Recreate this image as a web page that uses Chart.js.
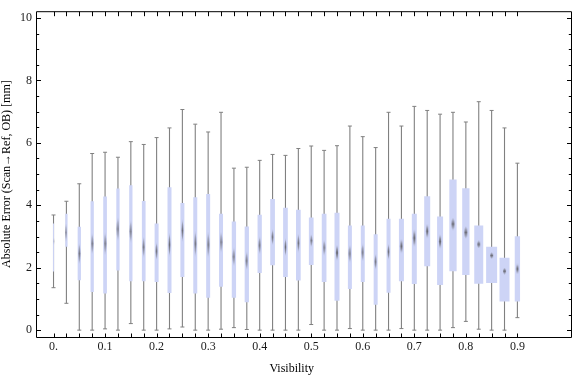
<!DOCTYPE html>
<html>
<head>
<meta charset="utf-8">
<title>Absolute error vs visibility</title>
<script src="https://cdn.jsdelivr.net/npm/chart.js@4.4.0/dist/chart.umd.min.js"></script>
<style>
  html, body { margin: 0; padding: 0; background: #fff; }
  #chart { display: block; }
</style>
</head>
<body>
<canvas id="chart" width="576" height="377"></canvas>
<script>
"use strict";

// ─── Data ──────────────────────────────────────────────────────────────────
const visibility = [
  0, 0.025, 0.05, 0.075, 0.1, 0.125, 0.15, 0.175, 0.2, 0.225,
  0.25, 0.275, 0.3, 0.325, 0.35, 0.375, 0.4, 0.425, 0.45, 0.475,
  0.5, 0.525, 0.55, 0.575, 0.6, 0.625, 0.65, 0.675, 0.7, 0.725,
  0.75, 0.775, 0.8, 0.825, 0.85, 0.875, 0.9,
];
const whiskerLo = [
  1.36, 0.86, 0, 0, 0.04, 0, 0.21, 0, 0, 0.04,
  0.10, 0, 0, 0.03, 0.08, 0.02, 0, 0, 0, 0,
  0.18, 0, 0, 0.05, 0, 0, 0, 0.05, 0, 0,
  0, 0.08, 0.28, 0.03, 0, 0, 0.40,
];
const q1 = [
  1.88, 2.67, 1.60, 1.22, 1.17, 1.91, 1.57, 1.57, 1.54, 1.19,
  1.70, 1.17, 1.04, 1.39, 1.04, 0.89, 1.83, 2.08, 1.70, 1.59,
  2.09, 1.54, 0.94, 1.32, 1.54, 0.81, 1.20, 1.57, 1.48, 2.05,
  1.45, 1.89, 1.77, 1.49, 1.51, 0.92, 0.92,
];
const median = [
  2.85, 3.13, 2.45, 2.77, 2.77, 3.24, 3.16, 2.66, 2.53, 2.74,
  3.19, 2.77, 2.74, 2.82, 2.35, 2.22, 2.72, 2.98, 2.66, 2.79,
  2.87, 2.64, 2.48, 2.45, 2.49, 2.19, 2.51, 2.69, 2.95, 3.17,
  2.84, 3.40, 3.13, 2.75, 2.39, 1.89, 1.96,
];
const q3 = [
  3.42, 3.73, 3.31, 4.13, 4.28, 4.54, 4.64, 4.14, 3.42, 4.58,
  4.07, 4.26, 4.36, 3.73, 3.48, 3.32, 3.70, 4.20, 3.92, 3.86,
  3.61, 3.73, 3.76, 3.35, 3.35, 3.07, 3.57, 3.57, 3.73, 4.29,
  3.64, 4.83, 4.55, 3.35, 2.67, 2.32, 3.01,
];
const whiskerHi = [
  3.69, 4.13, 4.69, 5.66, 5.70, 5.54, 6.04, 5.95, 6.17, 6.48,
  7.07, 6.60, 6.35, 6.98, 5.19, 5.22, 5.44, 5.63, 5.60, 5.82,
  5.90, 5.76, 5.91, 6.54, 6.20, 5.85, 6.98, 6.54, 7.17, 7.04,
  6.92, 6.98, 6.67, 7.32, 7.04, 6.48, 5.35,
];
// half-height of the median confidence marker, in mm
const medianCI = [
  0.12, 0.31, 0.34, 0.34, 0.37, 0.39, 0.37, 0.34, 0.29, 0.39,
  0.37, 0.42, 0.42, 0.34, 0.31, 0.31, 0.29, 0.26, 0.29, 0.31,
  0.21, 0.26, 0.26, 0.29, 0.29, 0.26, 0.26, 0.24, 0.29, 0.24,
  0.24, 0.21, 0.21, 0.13, 0.12, 0.11, 0.18,
];

const xTickValues = [0, 0.1, 0.2, 0.3, 0.4, 0.5, 0.6, 0.7, 0.8, 0.9];
const xTickLabels = ["0.", "0.1", "0.2", "0.3", "0.4", "0.5", "0.6", "0.7", "0.8", "0.9"];
const yTickValues = [0, 2, 4, 6, 8, 10];

// ─── Styling ───────────────────────────────────────────────────────────────
const FONT        = "'Liberation Serif', 'Times New Roman', serif";
const BOX_FILL    = "rgb(205,212,246)";
const WHISKER_COL = "rgb(128,128,128)";
const MEDIAN_RGB  = "100,100,108";
const Y_MINOR     = 0.5;
// box widths in px (box 0 is barely visible in the original)
const BOX_W = [
  1, 2.3, 3.3, 3.3, 3.7, 3.3, 3.3, 3.7, 4, 4,
  4, 4, 4, 4, 4.3, 4.3, 4.3, 4.7, 4.7, 4.7,
  4.7, 4.7, 5, 4, 4, 4, 4, 5, 5, 6,
  6, 7.3, 7.3, 9, 11, 10, 5.3,
];

// ─── Median marker: slim lens, darkest at the median, fading to the tips ───
function medianMark(ctx) {
  const i = ctx.dataIndex;
  const yScale = ctx.chart.scales.y;
  if (!yScale || i === undefined) return "circle";
  const top = yScale.getPixelForValue(median[i] + medianCI[i]);
  const bot = yScale.getPixelForValue(median[i] - medianCI[i]);
  if (!Number.isFinite(top) || !Number.isFinite(bot)) return "circle";
  const h = Math.max(4, Math.round(bot - top));
  const w = Math.max(2, Math.round(Math.min(BOX_W[i] * 0.5 + 1, 5)));
  const c = document.createElement("canvas");
  c.width = w;
  c.height = h;
  const g = c.getContext("2d");
  const grad = g.createLinearGradient(0, 0, 0, h);
  const k = i === 0 ? 0.35 : 1;
  grad.addColorStop(0,    `rgba(${MEDIAN_RGB},${0.12 * k})`);
  grad.addColorStop(0.25, `rgba(${MEDIAN_RGB},${0.55 * k})`);
  grad.addColorStop(0.5,  `rgba(${MEDIAN_RGB},${0.95 * k})`);
  grad.addColorStop(0.75, `rgba(${MEDIAN_RGB},${0.55 * k})`);
  grad.addColorStop(1,    `rgba(${MEDIAN_RGB},${0.12 * k})`);
  g.fillStyle = grad;
  g.beginPath();
  g.moveTo(w / 2, 0);
  g.quadraticCurveTo(w * 1.05, h / 2, w / 2, h);
  g.quadraticCurveTo(-w * 0.05, h / 2, w / 2, 0);
  g.closePath();
  g.fill();
  return c;
}

// ─── Datasets ──────────────────────────────────────────────────────────────
const whiskerSet = {
  type: "bar",
  data: visibility.map((v, i) => ({ x: v, y: [whiskerLo[i], whiskerHi[i]] })),
  backgroundColor: WHISKER_COL,
  barThickness: 1.1,
  grouped: false,
  inflateAmount: 0,
  order: 3,
};

const capSet = {
  type: "scatter",
  data: visibility.flatMap((v, i) => [{ x: v, y: whiskerLo[i] }, { x: v, y: whiskerHi[i] }]),
  pointStyle: "line",
  radius: 2,
  borderColor: WHISKER_COL,
  borderWidth: 1,
  order: 2,
};

const boxSets = visibility.map((v, i) => ({
  type: "bar",
  data: [{ x: v, y: [q1[i], q3[i]] }],
  backgroundColor: BOX_FILL,
  barThickness: BOX_W[i],
  grouped: false,
  inflateAmount: 0,
  order: 1,
}));

const medianSet = {
  type: "scatter",
  data: visibility.map((v, i) => ({ x: v, y: median[i] })),
  pointStyle: medianMark,
  radius: 3,
  order: 0,
};

// ─── Frame with inward ticks (Mathematica style) ───────────────────────────
const framePlugin = {
  id: "frame",
  afterDraw(chart) {
    const { ctx, chartArea: a, scales: { x, y } } = chart;
    const L = a.left + 0.5, R = a.right + 0.5, T = a.top + 0.5, B = a.bottom + 0.5;
    ctx.save();
    ctx.strokeStyle = "#000";
    ctx.lineWidth = 1;
    ctx.beginPath();
    ctx.rect(L, T, R - L, B - T);

    // x ticks at every category, top and bottom
    visibility.forEach(v => {
      const px = Math.round(x.getPixelForValue(v)) + 0.5;
      ctx.moveTo(px, B); ctx.lineTo(px, B - 4);
      ctx.moveTo(px, T); ctx.lineTo(px, T + 4.5);
    });

    // y ticks, majors and minors, left and right
    for (let v = 0; v <= 10 + 1e-9; v += Y_MINOR) {
      const py = Math.round(y.getPixelForValue(v)) + 0.5;
      const len = yTickValues.includes(v) ? 4.5 : 2.7;
      ctx.moveTo(L, py); ctx.lineTo(L + len, py);
      ctx.moveTo(R, py); ctx.lineTo(R - len, py);
    }
    ctx.stroke();

    // x axis label
    ctx.fillStyle = "#000";
    ctx.font = `12px ${FONT}`;
    ctx.textAlign = "center";
    ctx.textBaseline = "alphabetic";
    ctx.fillText("Visibility", a.left + (a.right - a.left) * 0.478, 372);
    ctx.restore();
  },
};

// ─── Chart ─────────────────────────────────────────────────────────────────
new Chart(document.getElementById("chart"), {
  type: "bar",
  data: { datasets: [whiskerSet, capSet, ...boxSets, medianSet] },
  options: {
    responsive: false,
    animation: false,
    layout: { padding: { top: 4, right: 3, left: 0, bottom: 0 } },
    plugins: {
      legend:  { display: false },
      tooltip: { enabled: false },
    },
    scales: {
      x: {
        type: "linear",
        min: -0.034,
        max: 1.004,
        offset: false,
        grid:   { display: false, drawTicks: false, offset: false },
        border: { display: false },
        afterFit(scale) { scale.height = 40; },
        afterBuildTicks(scale) { scale.ticks = xTickValues.map(v => ({ value: v })); },
        ticks: {
          autoSkip: false,
          maxRotation: 0,
          padding: 3,
          color: "#1a1a1a",
          font: { family: FONT, size: 12 },
          callback: (v, i) => xTickLabels[i],
        },
      },
      y: {
        type: "linear",
        min: -0.22,
        max: 10.22,
        grid:   { display: false, drawTicks: false },
        border: { display: false },
        afterFit(scale) { scale.width = 36; },
        afterBuildTicks(scale) { scale.ticks = yTickValues.map(v => ({ value: v })); },
        ticks: {
          padding: 4,
          color: "#1a1a1a",
          font: { family: FONT, size: 12 },
          callback: v => String(v),
        },
        title: {
          display: true,
          text: "Absolute Error (Scan\u2192Ref, OB) [mm]",
          color: "#000",
          padding: 0,
          font: { family: FONT, size: 12 },
        },
      },
    },
  },
  plugins: [framePlugin],
});
</script>
</body>
</html>
